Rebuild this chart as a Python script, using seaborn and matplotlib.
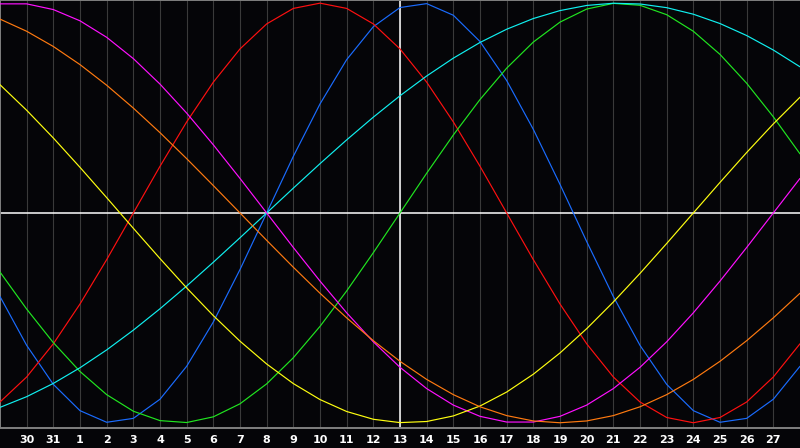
import numpy as np
import pandas as pd
import matplotlib
matplotlib.use("Agg")
import matplotlib.pyplot as plt
import seaborn as sns

# day labels for the 31 day slots shown (29th of previous month .. 28th)
day_labels = ["29", "30", "31"] + [str(i) for i in range(1, 29)]
today_label = "13"

# cycle values read per day (slot 0 .. 30), range -1 .. 1
blue = [-0.3984, -0.6311, -0.8170, -0.9423, -0.9977, -0.9791, -0.8879, -0.7308,
        -0.5196, -0.2698, 0.0, 0.2698, 0.5196, 0.7308, 0.8879, 0.9791, 0.9977,
        0.9423, 0.8170, 0.6311, 0.3984, 0.1362, -0.1362, -0.3984, -0.6311,
        -0.8170, -0.9423, -0.9977, -0.9791, -0.8879, -0.7308]
red = [-0.9010, -0.7818, -0.6235, -0.4339, -0.2225, 0.0, 0.2225, 0.4339, 0.6235,
       0.7818, 0.9010, 0.9749, 1.0, 0.9749, 0.9010, 0.7818, 0.6235, 0.4339,
       0.2225, 0.0, -0.2225, -0.4339, -0.6235, -0.7818, -0.9010, -0.9749, -1.0,
       -0.9749, -0.9010, -0.7818, -0.6235]
green = [-0.2817, -0.4582, -0.6182, -0.7557, -0.8660, -0.9450, -0.9898, -0.9989,
         -0.9718, -0.9096, -0.8146, -0.6901, -0.5406, -0.3717, -0.1893, 0.0,
         0.1893, 0.3717, 0.5406, 0.6901, 0.8146, 0.9096, 0.9718, 0.9989, 0.9898,
         0.9450, 0.8660, 0.7557, 0.6182, 0.4582, 0.2817]
cyan = [-0.9267, -0.8757, -0.8125, -0.7378, -0.6528, -0.5586, -0.4566, -0.3482,
        -0.2349, -0.1183, 0.0, 0.1183, 0.2349, 0.3482, 0.4566, 0.5586, 0.6528,
        0.7378, 0.8125, 0.8757, 0.9267, 0.9646, 0.9890, 0.9996, 0.9960, 0.9785,
        0.9473, 0.9028, 0.8456, 0.7765, 0.6966]
magenta = [0.9966, 0.9966, 0.9694, 0.9158, 0.8372, 0.7357, 0.6142, 0.4760,
           0.3247, 0.1646, 0.0, -0.1646, -0.3247, -0.4760, -0.6142, -0.7357,
           -0.8372, -0.9158, -0.9694, -0.9966, -0.9966, -0.9694, -0.9158,
           -0.8372, -0.7357, -0.6142, -0.4760, -0.3247, -0.1646, 0.0, 0.1646]
yellow = [0.6112, 0.4894, 0.3573, 0.2174, 0.0730, -0.0730, -0.2174, -0.3573,
          -0.4894, -0.6112, -0.7199, -0.8133, -0.8894, -0.9464, -0.9834,
          -0.9993, -0.9940, -0.9675, -0.9203, -0.8536, -0.7686, -0.6673,
          -0.5517, -0.4244, -0.2881, -0.1456, 0.0, 0.1456, 0.2881, 0.4244, 0.5517]
orange = [0.9239, 0.8660, 0.7934, 0.7071, 0.6088, 0.5, 0.3827, 0.2588, 0.1305,
          0.0, -0.1305, -0.2588, -0.3827, -0.5, -0.6088, -0.7071, -0.7934,
          -0.8660, -0.9239, -0.9659, -0.9914, -1.0, -0.9914, -0.9659, -0.9239,
          -0.8660, -0.7934, -0.7071, -0.6088, -0.5, -0.3827]

series = {"blue": blue, "red": red, "green": green, "cyan": cyan,
          "magenta": magenta, "yellow": yellow, "orange": orange}
colors = {"blue": "#1a6cff", "red": "#ff1010", "green": "#20e620",
          "cyan": "#10f0f0", "magenta": "#ff10ff", "yellow": "#ffff10",
          "orange": "#ff7a10"}

rows = []
for name, vals in series.items():
    for i, v in enumerate(vals):
        rows.append({"day": i, "value": v, "cycle": name})
df = pd.DataFrame(rows)

sns.set_style("dark")
bg = "#050508"
fig = plt.figure(figsize=(8, 4.48), dpi=100, facecolor=bg)
ax = fig.add_axes([0, 20 / 448, 1, 428 / 448])
ax.set_facecolor(bg)

sns.lineplot(data=df, x="day", y="value", hue="cycle", palette=colors,
             linewidth=0.85, legend=False, ax=ax, zorder=3)

ax.set_xlim(0, len(day_labels) - 1)
ax.set_ylim(-1.025, 1.015)

ticks = list(range(1, len(day_labels) - 1))
ax.set_xticks(ticks)
ax.set_xticklabels([day_labels[t] for t in ticks], color="white",
                   fontsize=8, fontweight="bold", family="DejaVu Sans")
ax.set_yticks([])
ax.tick_params(axis="x", length=0, pad=5)
ax.grid(axis="x", color="#3a3a3a", linewidth=0.8, zorder=1)
ax.grid(axis="y", visible=False)

ax.axhline(0, color="white", linewidth=1.1, zorder=2)
ax.axvline(day_labels.index(today_label, 3), color="white", linewidth=1.1, zorder=2)

for side in ["left", "top", "bottom"]:
    ax.spines[side].set_visible(True)
    ax.spines[side].set_color("#808080")
    ax.spines[side].set_linewidth(1.4)
ax.spines["right"].set_visible(False)

ax.set_xlabel("")
ax.set_ylabel("")

fig.savefig("out.png", dpi=100, facecolor=bg)
